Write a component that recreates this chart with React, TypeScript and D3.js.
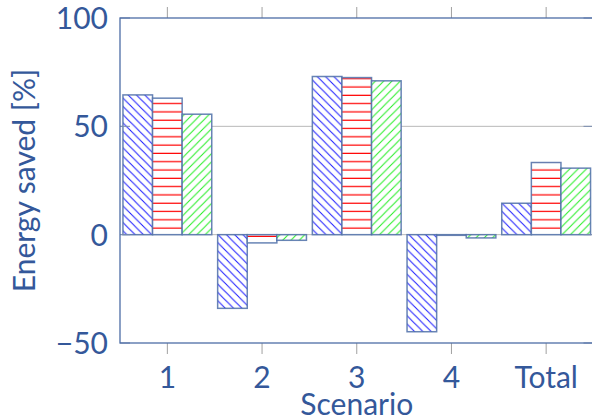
import React from "react";
import * as d3 from "d3";

const categories = ["1", "2", "3", "4", "Total"];
const seriesA = [64.5, -34, 73, -44.8, 14.5];
const seriesB = [63, -3.8, 72.5, -0.3, 33.3];
const seriesC = [55.6, -2.6, 71, -1.5, 30.7];
const yTicks = [-50, 0, 50, 100];
const yTickLabels = ["\u221250", "0", "50", "100"];

const W = 592;
const H = 420;
const textColor = "#34589a";
const axisColor = "#4d6da6";
const font = "Lato, 'Open Sans', sans-serif";

export default function App() {
  const x = d3.scaleLinear().domain([0.5, categories.length + 0.5]).range([120, 593.5]);
  const y = d3.scaleLinear().domain([-50, 100]).range([343, 18]);
  const bw = 29.6;
  const series = [
    { vals: seriesA, fill: "url(#patA)", off: -1 },
    { vals: seriesB, fill: "url(#patB)", off: 0 },
    { vals: seriesC, fill: "url(#patC)", off: 1 },
  ];
  const x0 = x.range()[0];
  const x1 = x.range()[1];
  const yTop = y(100);
  const yBot = y(-50);
  return (
    <svg width={W} height={H} style={{ position: "absolute", left: 0, top: 0, background: "#fff" }} fontFamily={font}>
      <defs>
        <pattern id="patA" patternUnits="userSpaceOnUse" width={8.3} height={8.3}>
          <rect width={8.3} height={8.3} fill="#fff" />
          <path d="M-2,-2 L10.3,10.3 M-2,6.3 L2,10.3 M6.3,-2 L10.3,2" stroke="#1a1aff" strokeWidth={1} />
        </pattern>
        <pattern id="patB" patternUnits="userSpaceOnUse" width={8.3} height={8.3}>
          <rect width={8.3} height={8.3} fill="#fff" />
          <path d="M0,4 L8.3,4" stroke="#ff0000" strokeWidth={1.2} />
        </pattern>
        <pattern id="patC" patternUnits="userSpaceOnUse" width={8.3} height={8.3}>
          <rect width={8.3} height={8.3} fill="#fff" />
          <path d="M-2,10.3 L10.3,-2 M-2,2 L2,-2 M6.3,10.3 L10.3,6.3" stroke="#22ee22" strokeWidth={1} />
        </pattern>
      </defs>
      {/* grid */}
      {yTicks.filter((t) => t > -50 && t < 100).map((t) => (
        <line key={"g" + t} x1={x0} x2={x1} y1={y(t)} y2={y(t)} stroke="#b8b8b8" strokeWidth={1} />
      ))}
      {/* bars */}
      {series.map((s, si) =>
        s.vals.map((v, i) => {
          const cx = x(i + 1) + s.off * bw;
          const yy = Math.min(y(v), y(0));
          const hh = Math.max(Math.abs(y(v) - y(0)), 0.01);
          return (
            <rect key={si + "-" + i} x={cx - bw / 2} y={yy} width={bw} height={hh} fill={s.fill}
              stroke="#4d6fa8" strokeOpacity={0.85} strokeWidth={1.5} />
          );
        })
      )}
      {/* y ticks inward */}
      {yTicks.map((t) => (
        <g key={"yt" + t}>
          <line x1={x0} x2={x0 + 10} y1={y(t)} y2={y(t)} stroke="#7a8db0" strokeWidth={1} />
          <line x1={x1} x2={x1 - 10} y1={y(t)} y2={y(t)} stroke="#7a8db0" strokeWidth={1} />
        </g>
      ))}
      {/* x ticks outward */}
      {categories.map((c, i) => (
        <g key={"xt" + c}>
          <line x1={x(i + 1)} x2={x(i + 1)} y1={yBot} y2={yBot + 11} stroke="#a0a0a0" strokeWidth={1} />
          <line x1={x(i + 1)} x2={x(i + 1)} y1={yTop} y2={yTop - 11} stroke="#a0a0a0" strokeWidth={1} />
        </g>
      ))}
      {/* axis box */}
      <rect x={x0} y={yTop} width={x1 - x0} height={yBot - yTop} fill="none" stroke={axisColor} strokeWidth={1.3} />
      {/* labels */}
      {categories.map((c, i) => (
        <text key={"xl" + c} x={x(i + 1)} y={388} textAnchor="middle" fontSize={30} fill={textColor}>{c}</text>
      ))}
      {yTicks.map((t, i) => (
        <text key={"yl" + t} x={108} y={y(t) + 11} textAnchor="end" fontSize={30} fill={textColor}>{yTickLabels[i]}</text>
      ))}
      <text x={(x0 + x1) / 2} y={415} textAnchor="middle" fontSize={30} fill={textColor}>Scenario</text>
      <text transform={`translate(35,${(yTop + yBot) / 2}) rotate(-90)`} textAnchor="middle" fontSize={30} fill={textColor}>Energy saved [%]</text>
    </svg>
  );
}
